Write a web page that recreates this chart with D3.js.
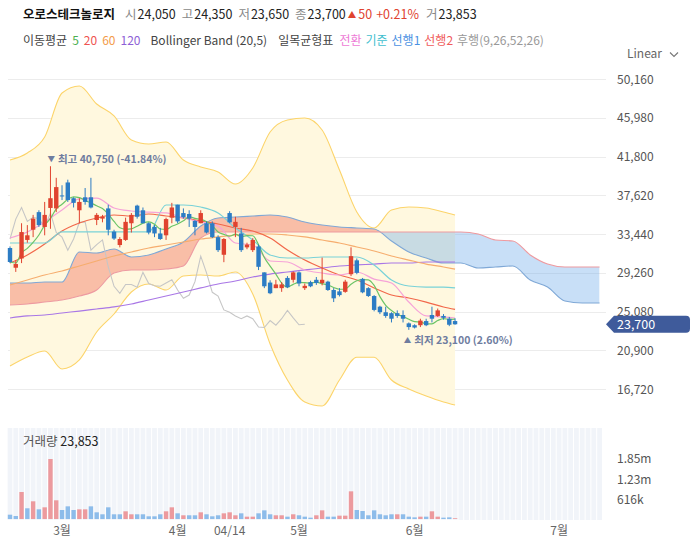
<!DOCTYPE html>
<html>
<head>
<meta charset="utf-8">
<script src="https://cdn.jsdelivr.net/npm/d3@7"></script>
<style>
  body { margin: 0; background: #fff; }
  svg { display: block; font-family: "Noto Sans CJK KR", "Noto Sans", sans-serif; }
</style>
</head>
<body>
<svg id="chart" width="695" height="556"></svg>
<script>
// daily candles, index 0 = first visible day
const opens  = [31930,29800,30800,32800,33900,35800,34200,36250,36200,37600,39000,37300,36000,37400,37400,34950,35100,36200,33700,32250,32800,34600,36500,36000,34600,34200,33500,33300,35200,36600,35700,35600,34850,34600,34600,34600,33100,31200,35700,34200,33500,32000,31700,32100,29300,28200,27600,27600,28700,28500,29300,27600,28250,28500,28150,28300,27400,27250,27200,29100,30600,28600,27600,26750,25600,25000,24900,24900,24700,23800,23600,23600,24050,24700,24600,24600,24300,24050];
const highs  = [32100,30600,34600,34400,35500,36000,36900,40750,39500,38700,39300,37400,37300,38400,39500,35700,35500,36600,33900,33100,35200,35700,36600,36300,34700,34400,34100,35200,36800,36600,36200,36000,34950,36000,34800,34800,33300,33000,35900,35300,34100,32500,33000,32300,29300,28450,28500,28250,28900,29400,29400,28100,28400,28800,30900,28400,27600,27600,28500,32000,30800,28700,27700,26850,25700,25600,25000,25200,25200,23900,23700,24300,24300,25600,25400,24800,24500,24350];
const lows   = [30300,29350,30300,32500,33100,34200,33300,34000,35800,37100,36900,36300,34600,36600,36200,34400,34700,33300,32800,32000,32700,33600,35100,34600,33400,33100,32800,32800,34600,34600,35100,34200,33300,34600,33500,33000,31500,30400,34600,33100,31500,31800,31500,29550,27600,26950,27600,27200,27600,28200,27800,27400,27700,27950,27900,27300,26100,26700,27100,28900,29100,27050,26650,25100,24800,24400,23900,24400,23900,23100,23250,23400,23500,23900,24500,24200,23500,23650];
const closes = [30420,30200,33650,33300,35100,34400,35500,37300,38500,37500,37100,36800,36900,36900,36300,35500,35300,33900,32950,32900,34750,35500,35300,34600,33600,33500,32900,35050,36300,34800,35250,35100,34200,35700,33600,33100,31700,32900,34700,34750,31700,32300,32800,29900,27800,27050,28000,28000,27700,29300,28100,27850,27800,28150,28500,27400,26500,26850,28300,31050,29250,27150,26750,25250,25000,24600,24300,24600,24300,23400,23350,24100,23600,24300,25200,24400,23650,23700];
const volumes = [133000,92000,832000,330000,545000,298000,360000,1848000,576000,277000,390000,277000,298000,298000,390000,206000,145000,360000,145000,145000,237000,145000,145000,145000,83000,83000,145000,237000,360000,175000,114000,114000,114000,206000,145000,83000,114000,175000,206000,114000,175000,72000,72000,175000,267000,145000,114000,114000,72000,145000,114000,72000,41000,114000,267000,72000,72000,103000,103000,852000,277000,246000,114000,267000,145000,114000,145000,145000,145000,72000,51000,72000,72000,237000,72000,41000,51000,23853];

// indicator lines every 3 days
const lineDays = [0,3,6,9,12,15,18,21,24,27,30,33,36,39,42,45,48,51,54,57,60,63,66,69,72,75,77];
const ma20     = [30310,31180,32360,33760,34630,35170,35490,35380,35600,35380,35170,34840,34520,34090,33760,33010,31710,30630,29770,29020,28480,27620,26860,26540,26100,25570,25300];
const ma60     = [27940,28480,29020,29450,29990,30530,31070,31500,31930,32250,32580,32900,33120,33330,33440,33440,33330,33120,32790,32470,32040,31610,31070,30630,30200,29880,29660];
const ma120    = [24380,24600,24700,24920,25130,25350,25570,25890,26320,26750,27180,27620,28050,28370,28800,29120,29340,29560,29770,29990,30100,30200,30310,30310,30420,30420,30420];
const bbUpper  = [41420,42180,43900,48650,49400,47460,46170,43580,43150,43360,41420,40670,40130,38830,40560,44440,45740,45950,44660,40340,35810,34090,36030,36350,36240,35810,35490];
const bbLower  = [19200,20170,20820,18880,19850,22870,24810,27180,28050,27400,28910,29020,28910,29340,26970,21580,17690,15320,14890,17690,20140,20140,17690,16720,15960,15320,14990];
const convLine = [33010,33660,34730,36030,37220,37320,36240,35920,35810,35710,35170,34730,34300,32470,32250,30530,30420,29560,29230,29020,29340,28580,28150,26100,24600,24490,24380];
const baseLine = [32470,32470,32470,33660,33660,33660,33660,33660,33660,36570,36570,36350,35710,34090,32790,31180,30850,30850,30960,30960,30960,30100,28480,27830,27720,27720,27620];

// leading spans run 26 days past the last candle
const spanDays = [0,3,6,9,12,15,18,21,24,27,30,33,36,39,42,45,48,51,54,57,60,63,66,69,72,75,78,81,84,87,90,93,96,99,102];
const span1 = [28150,28150,28260,28260,31500,31390,31820,30960,31180,31820,32580,34300,35170,35270,35380,35490,35270,34730,34410,34200,34090,33980,32690,31500,30850,30310,30310,29770,29880,29990,28480,27720,26210,26000,26000];
const span2 = [25780,25890,26100,26320,26750,27400,29230,29560,29560,29660,29990,33010,33660,33660,33660,33660,33660,33660,33660,33660,33660,33660,33660,33660,33660,33660,33660,33440,32790,32690,31180,30200,29880,29880,29880];

const priceTicks = [16720,20900,25080,29260,33440,37620,41800,45980,50160];
const volTicks = [616000,1230000,1850000];
const tickDays = [9,29,38,50,70,95];
const tickLabels = ["3월","4월","04/14","5월","6월","7월"];

const red = "#e0432f", blue = "#2c7cc4";
const svg = d3.select("#chart");
const fmt = d3.format(",");

const x = d3.scaleLinear().domain([0, 102]).range([10, 10 + 102 * 5.78]);
const y = d3.scaleLinear().domain([14239, 51994]).range([412, 62]);
const yv = d3.scaleLinear().domain([0, 1848000]).range([519, 459]);
const last = closes.length - 1;

// header line 1: name + last day's quote
const chg = closes[last] - closes[last - 1];
const h1 = svg.append("text").attr("x", 23).attr("y", 19).attr("font-size", 12.5);
h1.append("tspan").attr("font-weight", "bold").attr("fill", "#111").text("오로스테크놀로지");
[["시", opens[last]], ["고", highs[last]], ["저", lows[last]], ["종", closes[last]]].forEach(([k, v], n) => {
  h1.append("tspan").attr("dx", n ? 6 : 10).attr("fill", "#888").text(k);
  h1.append("tspan").attr("dx", 1).attr("fill", "#222").text(fmt(v));
});
h1.append("tspan").attr("dx", 2).attr("dy", -1).attr("fill", red).attr("font-size", 8.5).text("▲");
h1.append("tspan").attr("dx", 2).attr("dy", 1).attr("fill", red).text(fmt(chg));
h1.append("tspan").attr("dx", 4).attr("fill", red).text("+" + (chg / closes[last - 1] * 100).toFixed(2) + "%");
h1.append("tspan").attr("dx", 7).attr("fill", "#888").text("거");
h1.append("tspan").attr("dx", 1).attr("fill", "#222").text(fmt(volumes[last]));

// header line 2: indicator legend
const h2 = svg.append("text").attr("x", 23).attr("y", 45).attr("font-size", 12);
[["이동평균", 0, "#444"], ["5", 5, "#4caf50"], ["20", 5, "#ef5350"], ["60", 5, "#f39c4a"], ["120", 5, "#8e5fd6"],
 ["Bollinger Band (20,5)", 10, "#444"], ["일목균형표", 11, "#444"], ["전환", 6, "#ee7ad6"], ["기준", 4, "#3fbfcf"],
 ["선행1", 4, "#4a90e2"], ["선행2", 4, "#ef5b5b"], ["후행(9,26,52,26)", 4, "#999"]].forEach(([t, gap, c]) => {
  h2.append("tspan").attr("dx", gap).attr("fill", c).text(t);
});
svg.append("text").attr("x", 627).attr("y", 58).attr("font-size", 12).attr("fill", "#666").text("Linear");
svg.append("path").attr("d", "M670,52.5 L674,56.5 L678,52.5").attr("fill", "none").attr("stroke", "#777").attr("stroke-width", 1.1);

// grid + price axis
svg.append("g").selectAll("line").data(priceTicks).join("line")
    .attr("x1", 8).attr("x2", 606)
    .attr("y1", d => Math.round(y(d)) + 0.5).attr("y2", d => Math.round(y(d)) + 0.5)
    .attr("stroke", "#ececec");
svg.append("g").selectAll("text").data(priceTicks).join("text")
    .attr("x", 617).attr("y", d => y(d) + 4.5)
    .attr("font-size", 12).attr("fill", "#555")
    .text(fmt);

const lineAt = days => d3.line().x((d, k) => x(days[k])).y(d => y(d)).curve(d3.curveMonotoneX);
const areaAt = days => d3.area().x((d, k) => x(days[k])).curve(d3.curveMonotoneX);

// bollinger band
svg.append("path").datum(bbUpper)
    .attr("d", areaAt(lineDays).y0(d => y(d)).y1((d, k) => y(bbLower[k])))
    .attr("fill", "#fff8df");
[bbUpper, bbLower].forEach(s => svg.append("path").datum(s)
    .attr("d", lineAt(lineDays)).attr("fill", "none").attr("stroke", "#fcd46a").attr("stroke-width", 1.1));

// ichimoku cloud: red where span1 is on top, blue where span2 is
const defs = svg.append("defs");
defs.append("clipPath").attr("id", "above").append("path").datum(span2)
    .attr("d", areaAt(spanDays).y0(0).y1(d => y(d)));
defs.append("clipPath").attr("id", "below").append("path").datum(span2)
    .attr("d", areaAt(spanDays).y0(d => y(d)).y1(556));
const cloud = areaAt(spanDays).y0(d => y(d)).y1((d, k) => y(span2[k]));
svg.append("path").datum(span1).attr("d", cloud).attr("clip-path", "url(#above)").attr("fill", "rgba(240,110,90,0.42)");
svg.append("path").datum(span1).attr("d", cloud).attr("clip-path", "url(#below)").attr("fill", "rgba(110,170,235,0.38)");
svg.append("path").datum(span1).attr("d", lineAt(spanDays)).attr("fill", "none").attr("stroke", "#7fa8d6").attr("stroke-width", 1.1);
svg.append("path").datum(span2).attr("d", lineAt(spanDays)).attr("fill", "none").attr("stroke", "#ee9aa0").attr("stroke-width", 1.1);

// lagging span = close drawn 26 days back
const lag = closes.slice(26);
svg.append("path").datum(lag)
    .attr("d", d3.line().x((d, k) => x(k)).y(d => y(d)))
    .attr("fill", "none").attr("stroke", "#c6c6c6").attr("stroke-width", 1.1);

[[ma120, "#a977e6"], [ma60, "#f6ad6e"], [ma20, "#f2674a"], [baseLine, "#79d2d8"], [convLine, "#f6a3d8"]].forEach(([s, c]) => {
  svg.append("path").datum(s).attr("d", lineAt(lineDays))
      .attr("fill", "none").attr("stroke", c).attr("stroke-width", 1.2);
});

// 5 day average of closes
const ma5 = closes.map((c, i) => d3.mean(closes.slice(Math.max(0, i - 4), i + 1)));
svg.append("path").datum(ma5)
    .attr("d", d3.line().x((d, i) => x(i)).y(d => y(d)).curve(d3.curveMonotoneX))
    .attr("fill", "none").attr("stroke", "#6cc467").attr("stroke-width", 1.2);

// candles
const days = d3.range(closes.length);
const cg = svg.append("g").selectAll("g").data(days).join("g")
    .attr("fill", i => closes[i] >= opens[i] ? red : blue)
    .attr("stroke", i => closes[i] >= opens[i] ? red : blue);
cg.append("line")
    .attr("x1", i => x(i)).attr("x2", i => x(i))
    .attr("y1", i => y(highs[i])).attr("y2", i => y(lows[i]))
    .attr("stroke-width", 1);
cg.append("rect")
    .attr("x", i => x(i) - 2.2).attr("width", 4.4)
    .attr("y", i => y(Math.max(opens[i], closes[i])))
    .attr("height", i => Math.max(1, Math.abs(y(opens[i]) - y(closes[i]))))
    .attr("stroke", "none");

// high / low markers
const hi = d3.maxIndex(highs), lo = d3.minIndex(lows);
const pct = v => ((closes[last] - v) / v * 100).toFixed(2) + "%";
const marker = (px, py, arrow, label, v) => {
  const t = svg.append("text").attr("x", px).attr("y", py)
      .attr("font-size", 10.5).attr("font-weight", "bold").attr("fill", "#6f7d9f");
  t.append("tspan").attr("font-size", 7.5).attr("dy", -1).text(arrow);
  t.append("tspan").attr("dx", 3).attr("dy", 1).text(label + " " + fmt(v) + " (" + pct(v) + ")");
};
marker(x(hi) - 3, y(highs[hi]) - 3, "▼", "최고", highs[hi]);
marker(x(lo) - 5, y(lows[lo]) + 14, "▲", "최저", lows[lo]);

// volume panel
const step = x(1) - x(0);
svg.append("g").selectAll("rect").data(d3.range(103)).join("rect")
    .attr("x", i => x(i) - step / 2 + 0.5).attr("width", step - 1)
    .attr("y", 428).attr("height", 92)
    .attr("fill", "#f1f4f9");
svg.append("g").selectAll("rect").data(days).join("rect")
    .attr("x", i => x(i) - 2.2).attr("width", 4.4)
    .attr("y", i => yv(volumes[i])).attr("height", i => 519 - yv(volumes[i]))
    .attr("fill", i => (i === 0 ? closes[0] >= opens[0] : closes[i] >= closes[i - 1]) ? "#ec9a9e" : "#8dbcea");
const vt = svg.append("text").attr("x", 23).attr("y", 446).attr("font-size", 12.5);
vt.append("tspan").attr("fill", "#555").text("거래량 ");
vt.append("tspan").attr("fill", "#222").text(fmt(volumes[last]));
svg.append("g").selectAll("text").data(volTicks).join("text")
    .attr("x", 617).attr("y", d => yv(d) + 4.5)
    .attr("font-size", 12).attr("fill", "#555")
    .text(d => d >= 1e6 ? (d / 1e6).toFixed(2) + "m" : Math.round(d / 1e3) + "k");

// date axis
svg.append("g").selectAll("text").data(tickDays).join("text")
    .attr("x", d => x(d)).attr("y", 535).attr("text-anchor", "middle")
    .attr("font-size", 12).attr("fill", "#666")
    .text((d, k) => tickLabels[k]);

// current price tag (drawn last, over the axis labels)
const ty = y(closes[last]);
svg.append("path")
    .attr("d", `M606,${ty} L614,${ty - 8.5} H686 Q690,${ty - 8.5} 690,${ty - 4.5} V${ty + 4.5} Q690,${ty + 8.5} 686,${ty + 8.5} H614 Z`)
    .attr("fill", "#3f5b9b");
svg.append("text").attr("x", 617).attr("y", ty + 4.5).attr("font-size", 12.5).attr("fill", "#fff").text(fmt(closes[last]));
</script>
</body>
</html>
